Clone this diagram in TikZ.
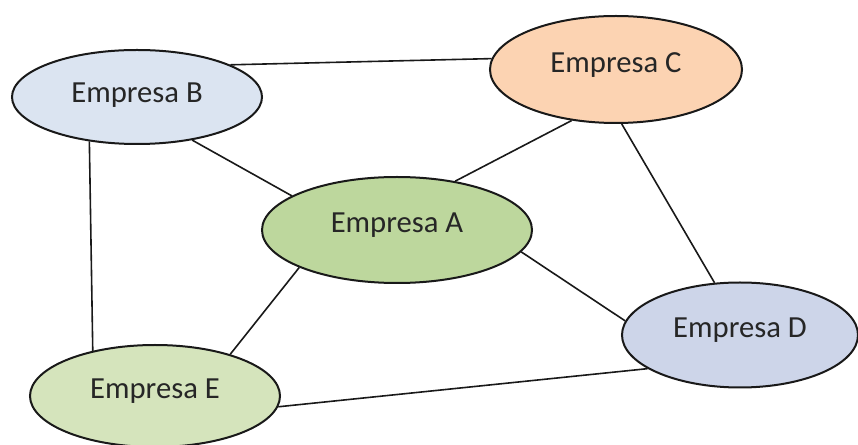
\documentclass[tikz,border=0pt]{standalone}
\usepackage{fontspec}
\setmainfont{Carlito}
\usetikzlibrary{shapes.geometric}
\definecolor{bluelight}{HTML}{DBE4F1}
\definecolor{peach}{HTML}{FCD3B2}
\definecolor{greenmid}{HTML}{BDD79D}
\definecolor{lavender}{HTML}{CDD5E9}
\definecolor{greenlight}{HTML}{D5E4BC}
\begin{document}
\begin{tikzpicture}[x=0.75pt,y=-0.75pt,
	empresa/.style={ellipse,draw=black!90,line width=1.5pt,inner sep=0pt,text=black!85,font=\fontsize{23}{27}\selectfont},
	link/.style={draw=black!90,line width=1.2pt}]
		\useasboundingbox (0,0) rectangle (858,445);
		\node[empresa,fill=bluelight,minimum width=250*0.75pt,minimum height=94*0.75pt] (B) at (137,97) {\raisebox{-4.4pt}[0pt][0pt]{Empresa B}};
		\node[empresa,fill=peach,minimum width=252*0.75pt,minimum height=107*0.75pt] (C) at (616,69.5) {\raisebox{-2.4pt}[0pt][0pt]{Empresa C}};
		\node[empresa,fill=greenmid,minimum width=270*0.75pt,minimum height=106*0.75pt] (A) at (397,230) {\raisebox{-1.6pt}[0pt][0pt]{Empresa A}};
		\node[empresa,fill=lavender,minimum width=236*0.75pt,minimum height=105*0.75pt] (D) at (740,335) {\raisebox{-1.6pt}[0pt][0pt]{Empresa D}};
		\node[empresa,fill=greenlight,minimum width=250*0.75pt,minimum height=102*0.75pt] (E) at (155,396) {\raisebox{-1.6pt}[0pt][0pt]{Empresa E}};
		\draw[link] (B.19) -- (C.175);
		\draw[link] (B.-38) -- (A.162);
		\draw[link] (C.229) -- (A.40);
		\draw[link] (C.276) -- (D.116);
		\draw[link] (A.-10) -- (D.173);
		\draw[link] (A.201) -- (E.29);
		\draw[link] (B.223) -- (E.144);
		\draw[link] (E.-5) -- (D.200);
\end{tikzpicture}
\end{document}
